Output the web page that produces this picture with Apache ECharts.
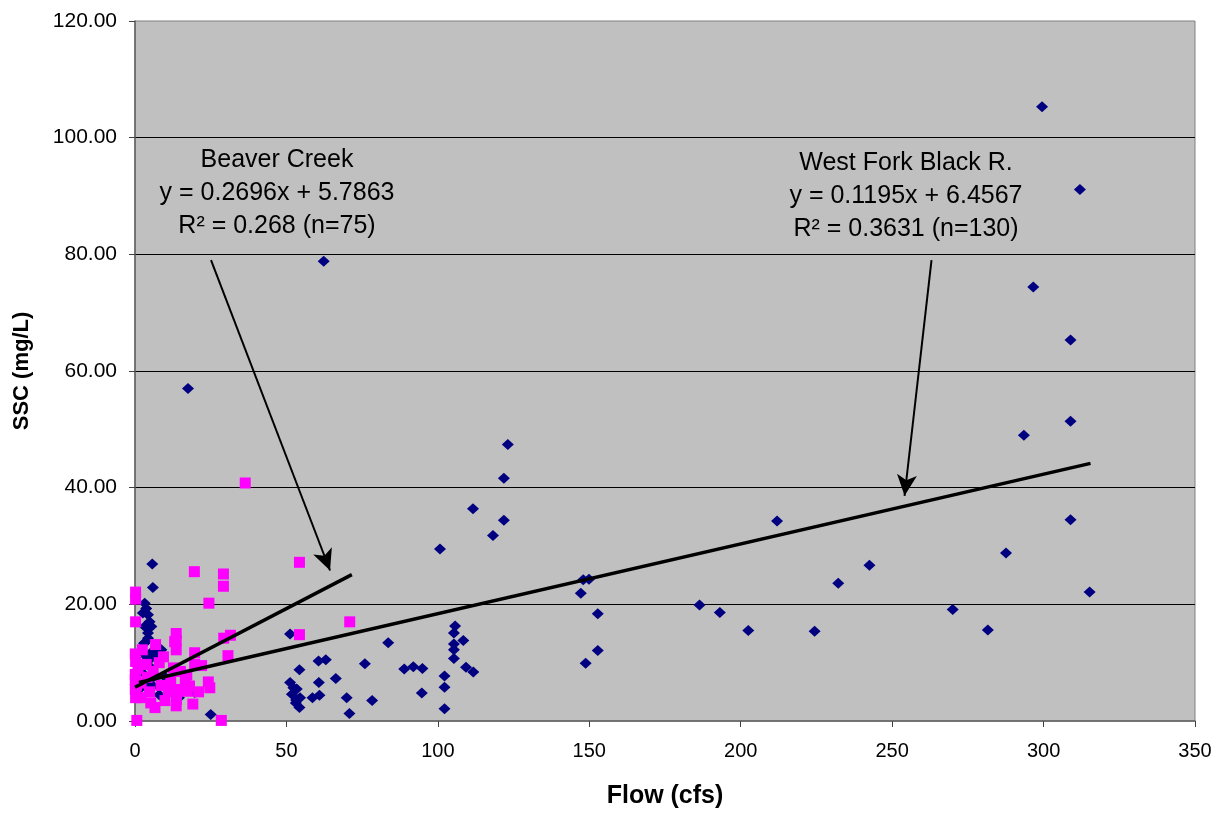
<!DOCTYPE html>
<html>
<head>
<meta charset="utf-8">
<script src="https://cdn.jsdelivr.net/npm/echarts@6/dist/echarts.min.js"></script>
<style>html,body{margin:0;padding:0;background:#fff}#c{width:1225px;height:814px}</style>
</head>
<body>
<div id="c"></div>
<script>
// ---- data ----
const xTicks = [0, 50, 100, 150, 200, 250, 300, 350];
const yTicks = [0, 20, 40, 60, 80, 100, 120];

const westFork = [
  [299.5,105.3],[312,91.1],[296.6,74.4],[308.9,65.3],[308.9,51.4],[293.5,49.0],[308.9,34.5],[287.6,28.8],[315.2,22.1],[270,19.1],[281.6,15.6],
  [148,24.2],[149.9,24.3],[147.2,21.9],[152.8,18.4],[152.8,12.1],[148.8,9.9],[186.4,19.9],[193.1,18.6],[202.5,15.5],[212,34.3],[224.4,15.4],[232.2,23.6],[242.5,26.7],
  [62.3,78.8],[123.1,47.4],[121.8,41.6],[111.6,36.4],[121.8,34.4],[118.2,31.8],[100.7,29.5],[51.2,14.9],[105.7,16.3],[105.3,15.1],[108.4,13.8],[105.3,13.2],[105.3,12.2],[105.3,10.7],[83.6,13.4],[75.9,9.8],[60.6,10.3],[63.0,10.5],[54.3,8.8],[88.9,8.9],[91.9,9.3],[94.9,9.0],[109.3,9.2],[111.7,8.4],[102.2,7.7],[102.2,5.8],[94.7,4.8],[102.2,2.1],[66.3,7.3],[60.7,6.6],[51.2,6.6],[52.3,5.7],[53.4,5.5],[51.8,4.6],[54.5,4.0],[53.2,3.6],[53.1,3.1],[54.3,2.3],[58.6,4.0],[60.9,4.4],[69.9,4.0],[70.8,1.3],[78.3,3.5],
  [17.5,57.0],[5.7,26.9],[5.9,22.9],[3.2,20.2],[3.7,19.3],[2.6,18.5],[4.3,18.2],[4.8,17.0],[3.2,16.2],[5.4,16.2],[4.3,15.1],[3.2,13.4],[4.3,14.2],[8.7,12.2],[5.4,10.8],[3.4,11.2],[5.4,9.1],[6.5,7.7],[19.7,4.9],[12.0,5.4],[25.0,1.1],[12.9,5.4],[7.4,11.3],[4.6,10.5],[5.7,11.9],[3.0,13.3],[2.0,8.5],[3.5,6.5],[1.5,5.5],[6.0,6.0],[10.0,7.5],[8.0,4.5],[14.5,4.0],[2.5,9.8]
];

const beaverCreek = [
  [54.3,27.2],[19.6,25.6],[29.2,25.2],[29.2,23.1],[24.4,20.2],[0.2,22.1],[0.2,20.9],[0.2,17.0],[70.9,17.0],[54.3,14.8],[36.4,40.8],[31.5,14.7],[29.3,14.2],[13.6,15.0],[13.6,13.8],[13.1,13.6],[13.6,12.2],[6.8,13.1],[2.4,12.2],[9.4,11.0],[19.7,11.7],[30.7,11.2],[0.2,10.2],[19.7,9.7],[12.7,9.1],[3.7,9.7],[17.1,7.9],[16.6,6.9],[24.2,6.7],[24.7,5.7],[11.8,6.8],[8.6,6.1],[4.8,5.0],[17.3,5.1],[14.2,5.4],[0.2,4.0],[2.1,4.0],[5.2,3.1],[6.6,2.3],[9.9,3.5],[13.7,3.7],[13.6,2.6],[19.1,2.9],[0.6,0.1],[28.5,0.1],[0.1,5.4],[0.1,8.0],[0.1,11.5],[0.1,7.0],[1.0,9.0],[2.0,6.5],[4.0,7.5],[6.0,8.5],[8.0,10.0],[11.0,5.0],[15.0,8.5],[18.0,6.0],[21.0,5.0],[22.0,9.5],[0.5,6.0]
];

// trend line endpoints
const beaverTrend = [[0, 5.79], [71.6, 25.09]];
const westForkTrend = [[1.3, 6.61], [315.5, 44.16]];

// annotation arrows: [start, end] in data units
const beaverArrow = [[25.1, 79.0], [64.4, 25.8]];
const westForkArrow = [[263.0, 79.0], [254.1, 38.6]];

const beaverLabel = ['Beaver Creek', 'y = 0.2696x + 5.7863', 'R² = 0.268 (n=75)'];
const westForkLabel = ['West Fork Black R.', 'y = 0.1195x + 6.4567', 'R² = 0.3631 (n=130)'];

// ---- chart ----
const chart = echarts.init(document.getElementById('c'), null, {renderer: 'canvas'});
const sans = "'Liberation Sans',Arial,sans-serif";

function arrowSeries(arr) {
  return {
    type: 'line', data: [], silent: true, z: 6,
    markLine: {
      silent: true, animation: false,
      symbol: ['none', 'arrow'], symbolSize: [15, 21],
      label: {show: false},
      lineStyle: {color: '#000', width: 2, type: 'solid'},
      emphasis: {disabled: true},
      data: [[{coord: arr[0]}, {coord: arr[1]}]]
    }
  };
}

function labelText(lines, cx, ys) {
  return lines.map((t, i) => ({
    type: 'text', x: cx, y: ys[i],
    style: {text: t, font: '25px ' + sans, fill: '#000', textAlign: 'center', textVerticalAlign: 'middle'},
    z: 10
  }));
}

chart.setOption({
  animation: false,
  backgroundColor: '#fff',
  grid: {left: 135, right: 30, top: 21, bottom: 87, show: true, backgroundColor: '#C0C0C0', borderColor: '#808080', borderWidth: 1},
  xAxis: {
    type: 'value', min: 0, max: 350, interval: 50,
    name: 'Flow (cfs)', nameLocation: 'middle', nameGap: 63,
    nameTextStyle: {fontFamily: sans, fontWeight: 'bold', fontSize: 25, color: '#000'},
    axisLine: {show: true, lineStyle: {color: '#606060', width: 1.5}},
    axisTick: {show: true, inside: false, length: 6, lineStyle: {color: '#404040'}},
    axisLabel: {fontFamily: sans, fontSize: 20, color: '#000', margin: 20,
      formatter: v => xTicks.includes(v) ? String(v) : ''},
    splitLine: {show: false}
  },
  yAxis: {
    type: 'value', min: 0, max: 120, interval: 20,
    name: 'SSC (mg/L)', nameLocation: 'middle', nameGap: 102, nameRotate: 90,
    nameTextStyle: {fontFamily: sans, fontWeight: 'bold', fontSize: 22, color: '#000'},
    axisLine: {show: true, lineStyle: {color: '#606060', width: 1.5}},
    axisTick: {show: true, inside: false, length: 6, lineStyle: {color: '#404040'}},
    axisLabel: {fontFamily: sans, fontSize: 21, color: '#000', margin: 18,
      formatter: v => yTicks.includes(v) ? v.toFixed(2) : ''},
    splitLine: {show: true, showMinLine: false, showMaxLine: false, lineStyle: {color: '#000', width: 1}}
  },
  series: [
    {name: 'West Fork Black R.', type: 'scatter', data: westFork, symbol: 'diamond', symbolSize: [12, 11],
      itemStyle: {color: '#000080', opacity: 1}, z: 2, silent: true},
    {name: 'Beaver Creek', type: 'scatter', data: beaverCreek, symbol: 'rect', symbolSize: [11, 11],
      itemStyle: {color: '#FF00FF', opacity: 1}, z: 3, silent: true},
    {type: 'line', data: beaverTrend, showSymbol: false, lineStyle: {color: '#000', width: 3.5}, z: 5, silent: true},
    {type: 'line', data: westForkTrend, showSymbol: false, lineStyle: {color: '#000', width: 3.5}, z: 5, silent: true},
    arrowSeries(beaverArrow),
    arrowSeries(westForkArrow)
  ],
  graphic: [].concat(labelText(beaverLabel, 277, [160, 193, 226]), labelText(westForkLabel, 906, [163, 196, 229]))
});
</script>
</body>
</html>
